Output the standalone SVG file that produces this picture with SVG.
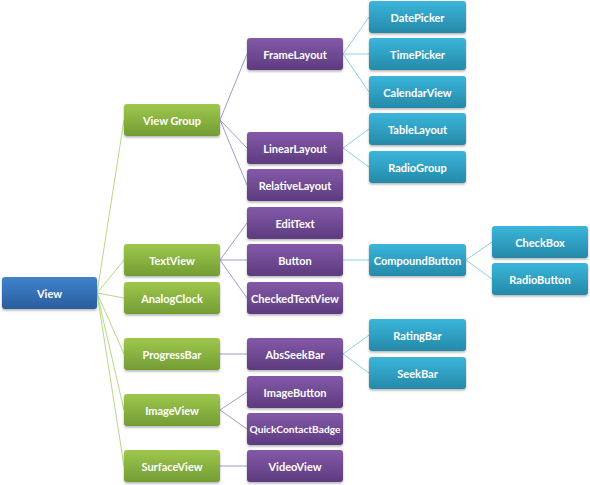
<svg xmlns="http://www.w3.org/2000/svg" width="590" height="485" viewBox="0 0 590 485">
<defs>
<linearGradient id="gB" x1="0" y1="0" x2="0" y2="1"><stop offset="0" stop-color="#3f83cc"/><stop offset="1" stop-color="#2a5d9e"/></linearGradient>
<linearGradient id="gG" x1="0" y1="0" x2="0" y2="1"><stop offset="0" stop-color="#9ec84c"/><stop offset="1" stop-color="#739c35"/></linearGradient>
<linearGradient id="gP" x1="0" y1="0" x2="0" y2="1"><stop offset="0" stop-color="#8459a8"/><stop offset="1" stop-color="#5d3b7f"/></linearGradient>
<linearGradient id="gC" x1="0" y1="0" x2="0" y2="1"><stop offset="0" stop-color="#3ab6da"/><stop offset="1" stop-color="#2689a9"/></linearGradient>
<filter id="sh" x="-10%" y="-20%" width="120%" height="150%"><feDropShadow dx="0" dy="1.5" stdDeviation="1" flood-color="#000" flood-opacity="0.3"/></filter>
</defs>
<style>
rect{filter:url(#sh)}
.b rect{fill:url(#gB)}
.g rect{fill:url(#gG)}
.p rect{fill:url(#gP)}
.c rect{fill:url(#gC)}
text{font-family:Lato,"Open Sans","Liberation Sans",sans-serif;font-weight:bold;font-size:11px;fill:#fff;text-anchor:middle;dominant-baseline:central}
.lg{stroke:#b5d985;stroke-width:1;fill:none}
.lp{stroke:#a898cc;stroke-width:1;fill:none}
.lc{stroke:#8ccfe6;stroke-width:1;fill:none}
</style>
<g id="connectors">
<path class="lg" d="M97,293L124,120M97,293L124,260M97,293L124,298M97,293L124,354M97,293L124,410M97,293L124,466"/>
<path class="lp" d="M220,120L247,54M220,120L247,148M220,120L247,185M220,260L247,223M220,260L247,260M220,260L247,298M220,354L247,354M220,410L247,392M220,410L247,429M220,466L247,466"/>
<path class="lc" d="M343,54L369,17M343,54L369,54M343,54L369,92M343,148L369,129M343,148L369,167M343,260L369,260M466,260L492,242M466,260L492,279M343,354L369,335M343,354L369,373"/>
</g>
<g id="View" class="b"><rect x="2" y="277" width="95" height="32" rx="3"/><text x="49.5" y="293">View</text></g>
<g id="ViewGroup" class="g"><rect x="124" y="104" width="96" height="32" rx="3"/><text x="172" y="120">View Group</text></g>
<g id="TextView" class="g"><rect x="124" y="244" width="96" height="32" rx="3"/><text x="172" y="260">TextView</text></g>
<g id="AnalogClock" class="g"><rect x="124" y="282" width="96" height="32" rx="3"/><text x="172" y="298">AnalogClock</text></g>
<g id="ProgressBar" class="g"><rect x="124" y="338" width="96" height="32" rx="3"/><text x="172" y="354">ProgressBar</text></g>
<g id="ImageView" class="g"><rect x="124" y="394" width="96" height="32" rx="3"/><text x="172" y="410">ImageView</text></g>
<g id="SurfaceView" class="g"><rect x="124" y="450" width="96" height="32" rx="3"/><text x="172" y="466">SurfaceView</text></g>
<g id="FrameLayout" class="p"><rect x="247" y="38" width="96" height="32" rx="3"/><text x="295" y="54">FrameLayout</text></g>
<g id="LinearLayout" class="p"><rect x="247" y="132" width="96" height="32" rx="3"/><text x="295" y="148">LinearLayout</text></g>
<g id="RelativeLayout" class="p"><rect x="247" y="169" width="96" height="32" rx="3"/><text x="295" y="185">RelativeLayout</text></g>
<g id="EditText" class="p"><rect x="247" y="207" width="96" height="32" rx="3"/><text x="295" y="223">EditText</text></g>
<g id="Button" class="p"><rect x="247" y="244" width="96" height="32" rx="3"/><text x="295" y="260">Button</text></g>
<g id="CheckedTextView" class="p"><rect x="247" y="282" width="96" height="32" rx="3"/><text x="295" y="298">CheckedTextView</text></g>
<g id="AbsSeekBar" class="p"><rect x="247" y="338" width="96" height="32" rx="3"/><text x="295" y="354">AbsSeekBar</text></g>
<g id="ImageButton" class="p"><rect x="247" y="376" width="96" height="32" rx="3"/><text x="295" y="392">ImageButton</text></g>
<g id="QuickContactBadge" class="p"><rect x="247" y="413" width="96" height="32" rx="3"/><text x="295" y="429" style="font-size:10.2px">QuickContactBadge</text></g>
<g id="VideoView" class="p"><rect x="247" y="450" width="96" height="32" rx="3"/><text x="295" y="466">VideoView</text></g>
<g id="DatePicker" class="c"><rect x="369" y="1" width="97" height="32" rx="3"/><text x="417.5" y="17">DatePicker</text></g>
<g id="TimePicker" class="c"><rect x="369" y="38" width="97" height="32" rx="3"/><text x="417.5" y="54">TimePicker</text></g>
<g id="CalendarView" class="c"><rect x="369" y="76" width="97" height="32" rx="3"/><text x="417.5" y="92">CalendarView</text></g>
<g id="TableLayout" class="c"><rect x="369" y="113" width="97" height="32" rx="3"/><text x="417.5" y="129">TableLayout</text></g>
<g id="RadioGroup" class="c"><rect x="369" y="151" width="97" height="32" rx="3"/><text x="417.5" y="167">RadioGroup</text></g>
<g id="CompoundButton" class="c"><rect x="369" y="244" width="97" height="32" rx="3"/><text x="417.5" y="260">CompoundButton</text></g>
<g id="RatingBar" class="c"><rect x="369" y="319" width="97" height="32" rx="3"/><text x="417.5" y="335">RatingBar</text></g>
<g id="SeekBar" class="c"><rect x="369" y="357" width="97" height="32" rx="3"/><text x="417.5" y="373">SeekBar</text></g>
<g id="CheckBox" class="c"><rect x="492" y="226" width="96" height="32" rx="3"/><text x="540" y="242">CheckBox</text></g>
<g id="RadioButton" class="c"><rect x="492" y="263" width="96" height="32" rx="3"/><text x="540" y="279">RadioButton</text></g>
</svg>
